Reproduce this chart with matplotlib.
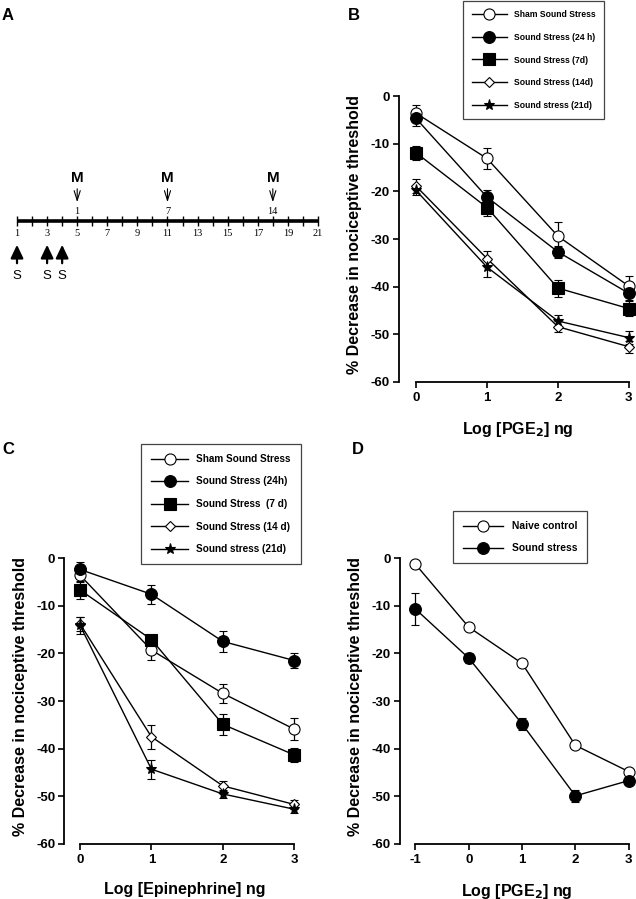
import numpy as np
import matplotlib
matplotlib.use("Agg")
import matplotlib.pyplot as plt
from matplotlib.lines import Line2D

plt.rcParams['font.family'] = ['Liberation Sans', 'DejaVu Sans']
plt.rcParams['axes.unicode_minus'] = False

# ---- data ----
# panel A timeline (days)
days = list(range(1, 22))
m_days = [5, 11, 18]
m_labels = ["1", "7", "14"]
s_days = [1, 3, 4]

# panel B: Log [PGE2] ng
b_x = [0, 1, 2, 3]
b_sham = [-3.6, -13.1, -29.4, -39.9]
b_sham_err = [1.8, 2.2, 3.0, 2.2]
b_24h = [-4.7, -21.2, -32.7, -41.4]
b_24h_err = [1.5, 1.5, 1.2, 1.5]
b_7d = [-11.9, -23.4, -40.3, -44.6]
b_7d_err = [1.5, 1.8, 1.8, 1.5]
b_14d = [-18.9, -34.1, -48.4, -52.6]
b_14d_err = [1.5, 1.5, 1.2, 1.3]
b_21d = [-19.8, -35.9, -47.2, -50.7]
b_21d_err = [1.0, 2.0, 1.2, 1.3]
b_labels = ["Sham Sound Stress", "Sound Stress (24 h)", "Sound Stress (7d)",
            "Sound Stress (14d)", "Sound stress (21d)"]

# panel C: Log [Epinephrine] ng
c_x = [0, 1, 2, 3]
c_sham = [-3.6, -19.3, -28.4, -35.9]
c_sham_err = [1.5, 2.0, 2.0, 2.3]
c_24h = [-2.4, -7.6, -17.5, -21.5]
c_24h_err = [1.5, 2.0, 2.2, 1.5]
c_7d = [-6.7, -17.1, -34.9, -41.3]
c_7d_err = [1.8, 1.0, 2.2, 1.5]
c_14d = [-13.8, -37.5, -47.8, -51.7]
c_14d_err = [1.5, 2.5, 1.0, 1.0]
c_21d = [-14.1, -44.3, -49.5, -52.7]
c_21d_err = [1.8, 2.0, 0.8, 0.8]
c_labels = ["Sham Sound Stress", "Sound Stress (24h)", "Sound Stress  (7 d)",
            "Sound Stress (14 d)", "Sound stress (21d)"]

# panel D: Log [PGE2] ng
d_x = [-1, 0, 1, 2, 3]
d_naive = [-1.3, -14.5, -22.1, -39.3, -44.8]
d_naive_err = [0.4, 0.4, 0.4, 0.4, 0.4]
d_sound = [-10.7, -21.0, -34.8, -49.9, -46.7]
d_sound_err = [3.3, 1.0, 1.2, 1.3, 0.8]
d_labels = ["Naive control", "Sound stress"]

W, H = 636, 899
fig = plt.figure(figsize=(W / 100, H / 100), dpi=100)

# marker styles: open circle, filled circle, square, open diamond, star
styles = [dict(marker='o', ms=8, mfc='white'),
          dict(marker='o', ms=8.5, mfc='black'),
          dict(marker='s', ms=8, mfc='black'),
          dict(marker='D', ms=5.5, mfc='white'),
          dict(marker='*', ms=8, mfc='black')]


def series(ax, x, y, err, st):
    ax.errorbar(x, y, yerr=err, color='black', lw=1.0, elinewidth=0.9,
                capsize=3, capthick=0.9, mec='black', mew=0.8,
                clip_on=False, **st)


def style_axes(ax, xticks, xlabel):
    ax.set_ylim(-60, 2)
    for s in ['top', 'right']:
        ax.spines[s].set_visible(False)
    ax.spines['left'].set_bounds(-60, 0)
    ax.spines['bottom'].set_bounds(xticks[0], xticks[-1])
    for s in ['left', 'bottom']:
        ax.spines[s].set_linewidth(1.3)
    ax.set_yticks(range(-60, 1, 10))
    ax.set_xticks(xticks)
    ax.tick_params(width=1.2, length=4.5, labelsize=9.5, pad=2)
    ax.tick_params(axis='x', pad=3)
    for t in ax.get_xticklabels() + ax.get_yticklabels():
        t.set_fontweight('bold')
    ax.set_ylabel("% Decrease in nociceptive threshold", fontsize=11.5,
                  fontweight='bold', labelpad=6)
    ax.set_xlabel(xlabel, fontsize=11.5, fontweight='bold', labelpad=11)


def legend(ax, labels, sts, anchor, fs, spacing, hl):
    handles = [Line2D([], [], color='black', lw=1.0, mec='black', mew=0.8, **st)
               for st in sts]
    lg = fig.legend(handles, labels, loc='upper left', bbox_to_anchor=anchor,
                    bbox_transform=fig.transFigure, fancybox=False,
                    edgecolor='#444444', framealpha=1, borderaxespad=0,
                    prop={'size': fs, 'weight': 'bold'}, labelspacing=spacing,
                    handlelength=hl, handletextpad=0.8, borderpad=1.0)
    lg.get_frame().set_linewidth(0.9)


# ---- panel A ----
axA = fig.add_axes([0, 1 - 300 / H, 330 / W, 300 / H])
axA.set_xlim(-0.13, 21.8)
axA.set_ylim(300, 0)
axA.axis('off')
axA.plot([days[0], days[-1]], [221, 221], color='black', lw=2.6,
         solid_capstyle='butt')
axA.vlines(days, 216, 226, color='black', lw=1.0)
for d in days:
    if d % 2 == 1:
        axA.text(d, 234, str(d), ha='center', va='center', fontsize=7.5,
                 family=['Liberation Serif', 'DejaVu Serif'])
for d, lab in zip(m_days, m_labels):
    axA.text(d, 178, "M", ha='center', va='center', fontsize=11,
             fontweight='bold')
    axA.annotate("", xy=(d, 205), xytext=(d, 186),
                 arrowprops=dict(arrowstyle='->,head_length=0.7,head_width=0.22',
                                 color='black', lw=0.8))
    axA.text(d, 211, lab, ha='center', va='center', fontsize=7.5,
             family=['Liberation Serif', 'DejaVu Serif'])
for d in s_days:
    axA.annotate("", xy=(d, 242), xytext=(d, 266),
                 arrowprops=dict(arrowstyle='-|>,head_length=0.8,head_width=0.38',
                                 color='black', lw=1.6))
    axA.text(d, 276, "S", ha='center', va='center', fontsize=9.5)

# ---- panel B ----
axB = fig.add_axes([399 / W, 517 / H, 237 / W, 0.3287])
axB.set_xlim(-0.24, 3.1)
for y, e, st in zip([b_sham, b_24h, b_7d, b_14d, b_21d],
                    [b_sham_err, b_24h_err, b_7d_err, b_14d_err, b_21d_err],
                    styles):
    series(axB, b_x, y, e, st)
style_axes(axB, b_x, "Log [PGE$_\\mathbf{2}$] ng")
legend(axB, b_labels, styles, (463 / W, 1 - 1 / H), 6.2, 1.62, 4.1)

# ---- panel C ----
axC = fig.add_axes([64.3 / W, 55 / H, 240.6 / W, 0.3287])
axC.set_xlim(-0.22, 3.15)
for y, e, st in zip([c_sham, c_24h, c_7d, c_14d, c_21d],
                    [c_sham_err, c_24h_err, c_7d_err, c_14d_err, c_21d_err],
                    styles):
    series(axC, c_x, y, e, st)
style_axes(axC, c_x, "Log [Epinephrine] ng")
legend(axC, c_labels, styles, (141 / W, 1 - 444 / H), 7.2, 1.25, 3.7)

# ---- panel D ----
axD = fig.add_axes([400 / W, 55 / H, 234 / W, 0.3287])
axD.set_xlim(-1.29, 3.1)
for y, e, st in zip([d_naive, d_sound], [d_naive_err, d_sound_err], styles[:2]):
    series(axD, d_x, y, e, st)
style_axes(axD, d_x, "Log [PGE$_\\mathbf{2}$] ng")
legend(axD, d_labels, styles[:2], (453 / W, 1 - 511 / H), 7.4, 1.15, 3.9)

# panel letters
for lab, px, py in [("A", 2, 15), ("B", 348, 15), ("C", 2, 450), ("D", 352, 450)]:
    fig.text(px / W, 1 - py / H, lab, fontsize=12, fontweight='bold',
             ha='left', va='center')

fig.savefig("out.png", dpi=100)
